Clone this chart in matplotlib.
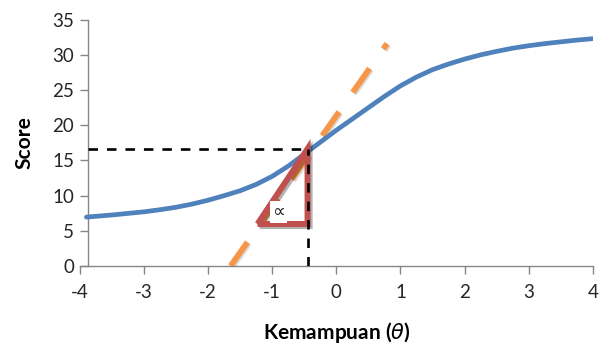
import matplotlib.pyplot as plt
import matplotlib.patheffects as pe

plt.rcParams['font.family'] = ['Lato', 'DejaVu Sans']

# item characteristic curve
theta = [-3.9, -3.5, -3.0, -2.75, -2.5, -2.25, -2.0, -1.75, -1.5, -1.25, -1.0,
         -0.75, -0.5, -0.25, 0.0, 0.25, 0.5, 0.75, 1.0, 1.25, 1.5, 1.75, 2.0,
         2.25, 2.5, 2.75, 3.0, 3.25, 3.5, 3.75, 4.0]
score = [6.95, 7.25, 7.7, 8.0, 8.35, 8.8, 9.35, 10.0, 10.7, 11.6, 12.75,
         14.2, 15.9, 17.6, 19.3, 20.9, 22.5, 24.1, 25.6, 26.85, 27.9, 28.7, 29.4,
         30.0, 30.5, 30.95, 31.3, 31.6, 31.85, 32.1, 32.3]

# tangent (slope) line
tan_x = [-1.65, 0.79]
tan_y = [0.0, 31.6]

# reference point and slope triangle
px, py = -0.45, 16.65
tri_x = [-1.23, -0.45, -0.45, -1.23]
tri_y = [5.97, 5.97, 16.65, 5.97]

xticks = [-4, -3, -2, -1, 0, 1, 2, 3, 4]
yticks = [0, 5, 10, 15, 20, 25, 30, 35]

fig = plt.figure(figsize=(5.99, 3.58), dpi=100)
ax = fig.add_axes([0.1336, 0.257, 0.856, 0.688])

ax.plot(theta, score, color='#4F81BD', lw=3.4, solid_capstyle='round',
        solid_joinstyle='round', zorder=3)
ax.plot(tan_x, tan_y, color='#F79646', lw=4.2, linestyle=(0, (5.0, 4.1)),
        dash_capstyle='butt', zorder=2,
        path_effects=[pe.SimpleLineShadow(offset=(1, -1), alpha=0.15), pe.Normal()])

ax.plot(tri_x, tri_y, color='#C0504D', lw=4.3, solid_joinstyle='miter',
        solid_capstyle='butt', zorder=4,
        path_effects=[pe.SimpleLineShadow(offset=(1.5, -1.5), alpha=0.3), pe.Normal()])

ax.plot([-3.875, px], [py, py], color='black', lw=1.9,
        linestyle=(0, (3.6, 3.4)), zorder=5)
ax.plot([px, px], [0, py], color='black', lw=1.9,
        linestyle=(0, (3.6, 3.4)), zorder=5)

ax.text(-0.9, 7.7, '\u221d', fontsize=13, ha='center', va='center',
        family=['DejaVu Sans'], color='#262626', zorder=6,
        bbox=dict(boxstyle='square,pad=0.1', fc='white', ec='none'))

ax.set_xlim(-4, 4)
ax.set_ylim(0, 35)
ax.set_xticks(xticks)
ax.set_yticks(yticks)
ax.set_xticklabels([str(v) for v in xticks])
ax.set_yticklabels([str(v) for v in yticks])

for s in ['top', 'right']:
    ax.spines[s].set_visible(False)
ax.spines['left'].set_position(('data', -3.875))
for s in ['left', 'bottom']:
    ax.spines[s].set_color('#868686')
    ax.spines[s].set_linewidth(1.0)
ax.tick_params(direction='out', length=6, width=1.0, color='#868686',
               labelsize=13.5, labelcolor='#262626')
ax.tick_params(axis='x', pad=7)
ax.tick_params(axis='y', pad=4)

ax.set_xlabel(r'Kemampuan ($\theta$)', fontsize=15, fontweight='bold',
              labelpad=14)
ax.set_ylabel('Score', fontsize=15, fontweight='bold', labelpad=13)

fig.savefig('out.png', dpi=100)
